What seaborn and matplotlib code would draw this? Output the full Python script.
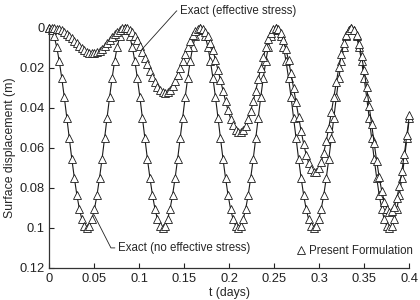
import numpy as np
import pandas as pd
import seaborn as sns
import matplotlib.pyplot as plt
from matplotlib.lines import Line2D

# sampling step of the plotted solution (days)
dt = 0.0028

# Exact solution without effective stress (m), one value per step
disp_no_eff = [
    0.0, 0.0011, 0.0043, 0.0095, 0.0165, 0.025, 0.0345, 0.0448, 0.0552, 0.0655,
    0.075, 0.0835, 0.0905, 0.0957, 0.0989, 0.1, 0.0989, 0.0957, 0.0905, 0.0835,
    0.075, 0.0655, 0.0552, 0.0448, 0.0345, 0.025, 0.0165, 0.0095, 0.0043, 0.0011,
    0.0, 0.0011, 0.0043, 0.0095, 0.0165, 0.025, 0.0345, 0.0448, 0.0552, 0.0655,
    0.075, 0.0835, 0.0905, 0.0957, 0.0989, 0.1, 0.0989, 0.0957, 0.0905, 0.0835,
    0.075, 0.0655, 0.0552, 0.0448, 0.0345, 0.025, 0.0165, 0.0095, 0.0043, 0.0011,
    0.0, 0.0011, 0.0043, 0.0095, 0.0165, 0.025, 0.0345, 0.0448, 0.0552, 0.0655,
    0.075, 0.0835, 0.0905, 0.0957, 0.0989, 0.1, 0.0989, 0.0957, 0.0905, 0.0835,
    0.075, 0.0655, 0.0552, 0.0448, 0.0345, 0.025, 0.0165, 0.0095, 0.0043, 0.0011,
    0.0, 0.0011, 0.0043, 0.0095, 0.0165, 0.025, 0.0345, 0.0448, 0.0552, 0.0655,
    0.075, 0.0835, 0.0905, 0.0957, 0.0989, 0.1, 0.0989, 0.0957, 0.0905, 0.0835,
    0.075, 0.0655, 0.0552, 0.0448, 0.0345, 0.025, 0.0165, 0.0095, 0.0043, 0.0011,
    0.0, 0.0011, 0.0043, 0.0095, 0.0165, 0.025, 0.0345, 0.0448, 0.0552, 0.0655,
    0.075, 0.0835, 0.0905, 0.0957, 0.0989, 0.1, 0.0989, 0.0957, 0.0905, 0.0835,
    0.075, 0.0655, 0.0552, 0.0448,
]

# Exact solution with effective stress (m)
disp_eff = [
    0.0, 0.0, 0.0001, 0.0004, 0.0008, 0.0013, 0.0021, 0.003, 0.0041, 0.0052,
    0.0065, 0.0078, 0.0091, 0.0102, 0.0112, 0.012, 0.0125, 0.0128, 0.0127, 0.0122,
    0.0115, 0.0105, 0.0092, 0.0078, 0.0062, 0.0047, 0.0032, 0.0019, 0.0009, 0.0002,
    0.0, 0.0002, 0.001, 0.0023, 0.0041, 0.0063, 0.009, 0.0119, 0.0151, 0.0183,
    0.0215, 0.0245, 0.0272, 0.0293, 0.031, 0.032, 0.0323, 0.0319, 0.0308, 0.0289,
    0.0265, 0.0236, 0.0202, 0.0167, 0.0131, 0.0097, 0.0065, 0.0038, 0.0017, 0.0005,
    0.0, 0.0005, 0.0019, 0.0042, 0.0074, 0.0113, 0.0159, 0.0209, 0.0261, 0.0314,
    0.0365, 0.0412, 0.0453, 0.0485, 0.0508, 0.052, 0.0521, 0.051, 0.0489, 0.0456,
    0.0415, 0.0367, 0.0313, 0.0257, 0.02, 0.0147, 0.0098, 0.0057, 0.0026, 0.0007,
    0.0, 0.0007, 0.0027, 0.0061, 0.0107, 0.0163, 0.0228, 0.0299, 0.0372, 0.0445,
    0.0515, 0.0579, 0.0634, 0.0676, 0.0705, 0.072, 0.0719, 0.0702, 0.067, 0.0623,
    0.0565, 0.0498, 0.0423, 0.0346, 0.0269, 0.0197, 0.0131, 0.0076, 0.0035, 0.0009,
    0.0, 0.0009, 0.0036, 0.008, 0.014, 0.0213, 0.0297, 0.0388, 0.0482, 0.0576,
    0.0665, 0.0746, 0.0815, 0.0868, 0.0903, 0.092, 0.0916, 0.0893, 0.0851, 0.079,
    0.0715, 0.0629, 0.0534, 0.0436,
]

x_ticks = [0, 0.05, 0.1, 0.15, 0.2, 0.25, 0.3, 0.35, 0.4]
x_labels = ['0', '0.05', '0.1', '0.15', '0.2', '0.25', '0.3', '0.35', '0.4']
y_ticks = [0, 0.02, 0.04, 0.06, 0.08, 0.1, 0.12]
y_labels = ['0', '0.02', '0.04', '0.06', '0.08', '0.1', '0.12']

t = np.arange(len(disp_eff)) * dt
df = pd.DataFrame({'t': t, 'no_eff': disp_no_eff, 'eff': disp_eff})

sns.set_style('ticks')
plt.rcParams['font.family'] = ['Liberation Sans', 'DejaVu Sans']

fig = plt.figure(figsize=(4.2, 3.0), dpi=100)
ax = fig.add_axes([0.117, 0.107, 0.857, 0.8])

style = dict(color='#1a1a1a', lw=0.8, marker='^', markersize=5.4,
             markerfacecolor='white', markeredgecolor='#1a1a1a',
             markeredgewidth=0.6, clip_on=False)
sns.lineplot(data=df, x='t', y='no_eff', ax=ax, **style)
sns.lineplot(data=df, x='t', y='eff', ax=ax, **style)

ax.set_xlim(0, 0.4)
ax.set_ylim(0.12, 0)
ax.set_xticks(x_ticks)
ax.set_xticklabels(x_labels)
ax.set_yticks(y_ticks)
ax.set_yticklabels(y_labels)
ax.tick_params(direction='in', length=3.5, width=0.8, labelsize=9.3,
               colors='#222222')
ax.tick_params(axis='x', pad=4)
ax.tick_params(axis='y', pad=3)
for s in ['left', 'bottom']:
    ax.spines[s].set_linewidth(0.9)
    ax.spines[s].set_color('#333333')
sns.despine(ax=ax)

ax.set_xlabel('t (days)', fontsize=8.8, labelpad=1)
ax.set_ylabel('Surface displacement (m)', fontsize=8.8, labelpad=3)

# leader-line labels
ax.annotate('Exact (effective stress)', xy=(0.103, 0.0108), xytext=(0.1456, -0.0085),
            fontsize=8.3, ha='left', va='center', annotation_clip=False,
            arrowprops=dict(arrowstyle='-', lw=0.6, color='#222222',
                            shrinkA=0, shrinkB=0, relpos=(0, 0.5),
                            connectionstyle='angle,angleA=0,angleB=48,rad=0'))
ax.annotate('Exact (no effective stress)', xy=(0.05, 0.0935), xytext=(0.0767, 0.110),
            fontsize=8.3, ha='left', va='center', annotation_clip=False,
            arrowprops=dict(arrowstyle='-', lw=0.6, color='#222222',
                            shrinkA=0, shrinkB=0, relpos=(0, 0.5),
                            connectionstyle='angle,angleA=0,angleB=-63,rad=0'))

handle = Line2D([], [], ls='none', marker='^', markersize=5.8,
                markerfacecolor='white', markeredgecolor='#1a1a1a', markeredgewidth=0.6)
ax.legend([handle], ['Present Formulation'], loc='lower right', frameon=False,
          bbox_to_anchor=(1.01, 0.045), borderaxespad=0, borderpad=0,
          handlelength=0.8, handletextpad=0.3, fontsize=8.3)

fig.savefig('out.png', dpi=100)
